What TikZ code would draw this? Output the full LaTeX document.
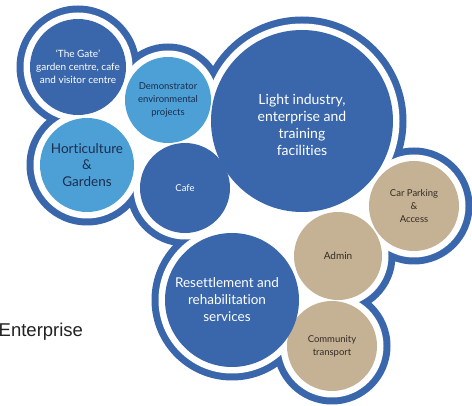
\documentclass[tikz,border=0pt]{standalone}
\usepackage{fontspec}
\setmainfont[Ligatures={NoCommon}]{Lato}
\newfontfamily\arialfont{Liberation Sans}
\definecolor{dkblue}{RGB}{58,103,172}
\definecolor{ltblue}{RGB}{76,160,214}
\definecolor{mytan}{RGB}{197,178,148}
\definecolor{navytext}{RGB}{28,45,78}
\definecolor{browntext}{RGB}{52,44,36}
\definecolor{labelgray}{RGB}{34,34,34}
\tikzset{
  bubble/.style={circle, inner sep=0pt, align=center},
  dkbubble/.style={bubble, fill=dkblue, text=white},
  ltbubble/.style={bubble, fill=ltblue, text=navytext},
  tanbubble/.style={bubble, fill=mytan, text=browntext},
  bubbletext/.style={inner sep=0pt, align=center},
  ring/.style={fill=dkblue},
  gapfill/.style={fill=white},
}
\newcommand{\fs}[2]{\fontsize{#1}{#2}\selectfont}
\begin{document}
\begin{tikzpicture}[x=1pt,y=-1pt]
\useasboundingbox (0,0) rectangle (472,406);
\fill[white] (0,0) rectangle (472,406);
% centres
\coordinate (gate) at (78,67);
\coordinate (demo) at (168,100);
\coordinate (hort) at (87,165);
\coordinate (cafe) at (185,188);
\coordinate (light) at (302,121);
\coordinate (car) at (414,206);
\coordinate (admin) at (338,256);
\coordinate (comm) at (332,346);
\coordinate (resett) at (232,300);
% outer blue outline
\foreach \c/\r in {gate/48,demo/43,hort/47,cafe/45,light/91,car/45,admin/44,comm/45,resett/67}{
  \fill[ring] (\c) circle[radius=\r pt+13.5pt];
}
\foreach \c/\r in {gate/48,demo/43,hort/47,cafe/45,light/91,car/45,admin/44,comm/45,resett/67}{
  \fill[gapfill] (\c) circle[radius=\r pt+6.5pt];
}
\fill[gapfill] (gate) -- (demo) -- (light) -- (car) -- (admin) -- (comm) -- (resett) -- (cafe) -- (hort) -- cycle;
% bubbles
\node[dkbubble, minimum size=96pt, font=\fs{10}{13}] (gateN) at (gate) {`The Gate'\\garden centre, cafe\\and visitor centre};
\node[ltbubble, minimum size=86pt, font=\fs{9.5}{13}] (demoN) at (demo) {Demonstrator\\environmental\\projects};
\node[ltbubble, minimum size=94pt, font=\fs{13.5}{16.5}] (hortN) at (hort) {Horticulture\\\&\\Gardens};
\node[dkbubble, minimum size=90pt, font=\fs{9.5}{12}] (cafeN) at (cafe) {Cafe};
\node[dkbubble, minimum size=182pt] (lightN) at (light) {};
\node[bubbletext, text=white, font=\fs{14}{16.8}] (lightT) at (302,125) {Light industry,\\enterprise and\\training\\facilities};
\node[tanbubble, minimum size=90pt, font=\fs{9.5}{13}] (carN) at (car) {Car Parking\\\&\\Access};
\node[tanbubble, minimum size=88pt, font=\fs{10}{12}] (adminN) at (admin) {Admin};
\node[tanbubble, minimum size=90pt, font=\fs{9.5}{13}] (commN) at (comm) {Community\\transport};
\node[dkbubble, minimum size=134pt] (resettN) at (resett) {};
\node[bubbletext, text=white, font=\fs{13.5}{17}] (resettT) at (227,300) {Resettlement and\\rehabilitation\\services};
% cut label
\node[anchor=base west, inner sep=0pt, text=labelgray, font=\arialfont\fs{18.5}{21}] (ent) at (-1.5,337) {Enterprise};
\end{tikzpicture}
\end{document}
